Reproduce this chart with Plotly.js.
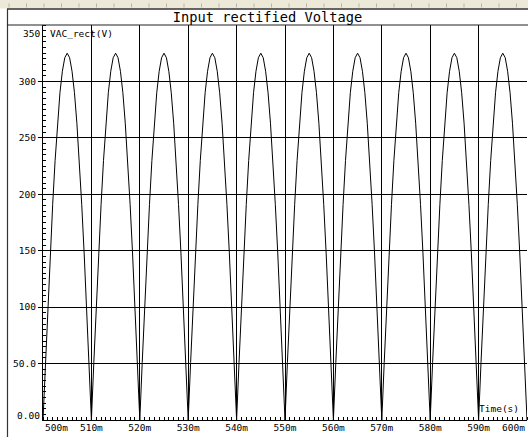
<!DOCTYPE html>
<html>
<head>
<meta charset="utf-8">
<script src="https://cdn.plot.ly/plotly-3.0.1.min.js"></script>
<style>
html,body{margin:0;padding:0;background:#fff;}
#chart{width:528px;height:437px;}
</style>
</head>
<body>
<div id="chart"></div>
<script>
// Time in milliseconds (x axis), read at 0.5 ms steps
const time_ms = [
500,500.5,501,501.5,502,502.5,503,503.5,504,504.5,505,505.5,506,506.5,507,507.5,508,508.5,509,509.5,
510,510.5,511,511.5,512,512.5,513,513.5,514,514.5,515,515.5,516,516.5,517,517.5,518,518.5,519,519.5,
520,520.5,521,521.5,522,522.5,523,523.5,524,524.5,525,525.5,526,526.5,527,527.5,528,528.5,529,529.5,
530,530.5,531,531.5,532,532.5,533,533.5,534,534.5,535,535.5,536,536.5,537,537.5,538,538.5,539,539.5,
540,540.5,541,541.5,542,542.5,543,543.5,544,544.5,545,545.5,546,546.5,547,547.5,548,548.5,549,549.5,
550,550.5,551,551.5,552,552.5,553,553.5,554,554.5,555,555.5,556,556.5,557,557.5,558,558.5,559,559.5,
560,560.5,561,561.5,562,562.5,563,563.5,564,564.5,565,565.5,566,566.5,567,567.5,568,568.5,569,569.5,
570,570.5,571,571.5,572,572.5,573,573.5,574,574.5,575,575.5,576,576.5,577,577.5,578,578.5,579,579.5,
580,580.5,581,581.5,582,582.5,583,583.5,584,584.5,585,585.5,586,586.5,587,587.5,588,588.5,589,589.5,
590,590.5,591,591.5,592,592.5,593,593.5,594,594.5,595,595.5,596,596.5,597,597.5,598,598.5,599,599.5,
600
];
// VAC_rect(V) values
const vac_rect = [
0,51,100,148,191,230,263,290,309,321,325,321,309,290,263,230,191,148,100,51,
0,51,100,148,191,230,263,290,309,321,325,321,309,290,263,230,191,148,100,51,
0,51,100,148,191,230,263,290,309,321,325,321,309,290,263,230,191,148,100,51,
0,51,100,148,191,230,263,290,309,321,325,321,309,290,263,230,191,148,100,51,
0,51,100,148,191,230,263,290,309,321,325,321,309,290,263,230,191,148,100,51,
0,51,100,148,191,230,263,290,309,321,325,321,309,290,263,230,191,148,100,51,
0,51,100,148,191,230,263,290,309,321,325,321,309,290,263,230,191,148,100,51,
0,51,100,148,191,230,263,290,309,321,325,321,309,290,263,230,191,148,100,51,
0,51,100,148,191,230,263,290,309,321,325,321,309,290,263,230,191,148,100,51,
0,51,100,148,191,230,263,290,309,321,325,321,309,290,263,230,191,148,100,51,
0
];
const x_tickvals = [510,520,530,540,550,560,570,580,590];
const x_ticktext = ["510m","520m","530m","540m","550m","560m","570m","580m","590m"];
const y_tickvals = [50,100,150,200,250,300];
const y_ticktext = ["50.0","100","150","200","250","300"];
const titleText = "Input rectified Voltage";
const traceName = "VAC_rect(V)";
const xAxisLabel = "Time(s)";

// plot-area geometry in pixels
const L = 43, R = 1, T = 25, B = 17, W = 528, H = 437;
const PW = W - L - R, PH = H - T - B;
const px = v => (v - L) / PW;       // pixel x -> paper x
const py = v => (H - B - v) / PH;   // pixel y -> paper y

const mono = "DejaVu Sans Mono, monospace";

const shapes = [
  // top beige strip
  {type:"rect", xref:"paper", yref:"paper", x0:px(0), x1:px(W), y0:py(0), y1:py(8.5),
   fillcolor:"#ece9d8", line:{width:0}, layer:"below"},
  // dark line below strip
  {type:"line", xref:"paper", yref:"paper", x0:px(7), x1:px(W), y0:py(9), y1:py(9),
   line:{color:"#333", width:1.5}},
  // left frame line
  {type:"line", xref:"paper", yref:"paper", x0:px(7.5), x1:px(7.5), y0:py(9), y1:py(H),
   line:{color:"#333", width:1.2}},
  // line under title (plot top)
  {type:"line", xref:"paper", yref:"paper", x0:px(7), x1:px(W), y0:py(25), y1:py(25),
   line:{color:"#222", width:1.2}}
];
for (let xx = 9; xx < W; xx += 17.5) {
  shapes.push({type:"line", xref:"paper", yref:"paper", x0:px(xx), x1:px(xx), y0:py(3.5), y1:py(7.5),
    line:{color:"#b8b6a8", width:1}});
}

const annotations = [
  {xref:"paper", yref:"paper", x:px(48), y:py(33), xanchor:"left", yanchor:"middle",
   text:traceName, showarrow:false, font:{family:mono, size:9.5, color:"#000"}},
  {xref:"paper", yref:"paper", x:px(521), y:py(408), xanchor:"right", yanchor:"middle",
   text:xAxisLabel, showarrow:false, font:{family:mono, size:9.5, color:"#000"}},
  {xref:"x", yref:"paper", x:500, y:py(427.5), xanchor:"left", yanchor:"middle",
   text:"500m", showarrow:false, font:{family:mono, size:9.5, color:"#000"}},
  {xref:"x", yref:"paper", x:600, y:py(427.5), xanchor:"right", yanchor:"middle",
   text:"600m", showarrow:false, font:{family:mono, size:9.5, color:"#000"}},
  {xref:"paper", yref:"paper", x:px(41.5), y:py(33), xanchor:"right", yanchor:"middle",
   text:"350", showarrow:false, font:{family:mono, size:9.5, color:"#000"}},
  {xref:"paper", yref:"paper", x:px(42), y:py(415), xanchor:"right", yanchor:"middle",
   text:"0.00", showarrow:false, font:{family:mono, size:9.5, color:"#000"}}
];

const trace = {
  x: time_ms, y: vac_rect, type:"scatter", mode:"lines",
  line:{color:"#000", width:1}, hoverinfo:"skip", showlegend:false
};

const layout = {
  width:W, height:H,
  margin:{l:L, r:R, t:T, b:B, pad:0},
  paper_bgcolor:"#fff", plot_bgcolor:"#fff",
  showlegend:false,
  title:{text:titleText, x:267.5/W, xref:"container", xanchor:"center",
         y:1 - 17/H, yref:"container", yanchor:"middle",
         font:{family:mono, size:13.7, color:"#000"}},
  xaxis:{range:[500,600], tickmode:"array", tickvals:x_tickvals, ticktext:x_ticktext,
         showgrid:true, gridcolor:"#000", gridwidth:1,
         showline:true, linecolor:"#000", linewidth:1.2, mirror:false,
         ticks:"", zeroline:false, ticklabelstandoff:-2,
         tickfont:{family:mono, size:9.5, color:"#000"},
         minor:{tickmode:"linear", tick0:500, dtick:1, ticks:"inside", ticklen:3,
                tickcolor:"#000", tickwidth:1, showgrid:false},
         fixedrange:true},
  yaxis:{range:[0,350], tickmode:"array", tickvals:y_tickvals, ticktext:y_ticktext,
         showgrid:true, gridcolor:"#000", gridwidth:1,
         showline:true, linecolor:"#000", linewidth:1.2, mirror:false,
         ticks:"outside", ticklen:4, tickcolor:"#000", tickwidth:1, zeroline:false,
         tickfont:{family:mono, size:9.5, color:"#000"},
         minor:{tickmode:"linear", tick0:0, dtick:5, ticks:"inside", ticklen:3,
                tickcolor:"#000", tickwidth:1, showgrid:false},
         fixedrange:true},
  shapes:shapes,
  annotations:annotations
};

Plotly.newPlot("chart", [trace], layout, {staticPlot:true, displayModeBar:false});
</script>
</body>
</html>
